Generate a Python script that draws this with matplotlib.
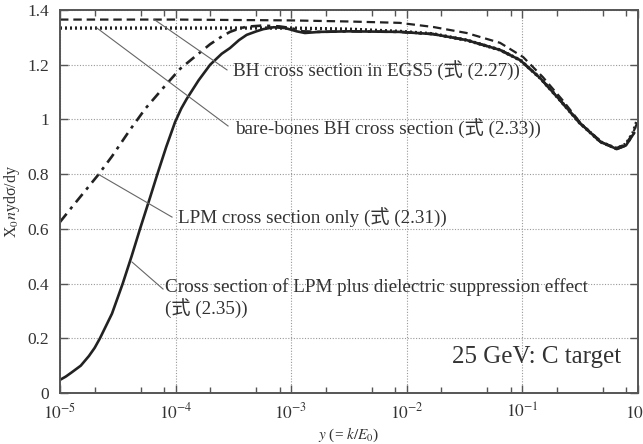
import numpy as np
import matplotlib
matplotlib.use('Agg')
import matplotlib.pyplot as plt
from matplotlib.ticker import LogLocator, NullFormatter

plt.rcParams['font.family'] = ['Liberation Serif', 'Noto Sans CJK JP']
plt.rcParams['mathtext.fontset'] = 'stix'

# curves, x given as log10(y)
solid_logy = [-5.0, -4.95, -4.9, -4.82, -4.75, -4.7, -4.654, -4.55, -4.457, -4.38,
              -4.307, -4.22, -4.157, -4.08, -4.004, -3.95, -3.903, -3.85, -3.80, -3.70,
              -3.60, -3.528, -3.45, -3.384, -3.30, -3.24, -3.15, -3.05, -2.95, -2.88,
              -2.75, -2.5, -2.06, -1.77, -1.48, -1.19, -1.017, -0.84, -0.67, -0.50,
              -0.32, -0.18, -0.10, -0.03]
solid_val = [0.048, 0.06, 0.075, 0.10, 0.135, 0.165, 0.20, 0.29, 0.40, 0.50,
             0.60, 0.715, 0.80, 0.90, 0.99, 1.04, 1.075, 1.11, 1.143, 1.20,
             1.24, 1.261, 1.29, 1.309, 1.322, 1.330, 1.337, 1.334, 1.322, 1.316,
             1.32, 1.322, 1.32, 1.312, 1.29, 1.254, 1.217, 1.15, 1.07, 0.987,
             0.918, 0.892, 0.905, 0.95]

lpm_logy = [-5.0, -4.896, -4.78, -4.67, -4.55, -4.394, -4.26, -4.076, -3.96, -3.816,
            -3.70, -3.60, -3.528, -3.45, -3.384, -3.25, -3.10, -3.0, -2.9, -2.75,
            -2.5, -2.06, -1.77, -1.48, -1.19, -1.017, -0.84, -0.67, -0.50, -0.32,
            -0.18, -0.10, -0.03]
lpm_val = [0.625, 0.68, 0.74, 0.797, 0.865, 0.962, 1.04, 1.13, 1.185, 1.235,
           1.275, 1.303, 1.32, 1.332, 1.339, 1.343, 1.34, 1.334, 1.322, 1.32,
           1.322, 1.32, 1.312, 1.29, 1.254, 1.217, 1.15, 1.07, 0.987, 0.918,
           0.892, 0.905, 0.95]

bare_logy = [-5.0, -4.0, -3.0, -2.5, -2.06, -1.77, -1.48, -1.19, -1.017, -0.84,
             -0.67, -0.50, -0.32, -0.18, -0.10, -0.04, 0.0]
bare_val = [1.334, 1.334, 1.334, 1.330, 1.322, 1.313, 1.29, 1.254, 1.217, 1.15,
            1.07, 0.987, 0.918, 0.893, 0.91, 0.95, 1.0]

egs_logy = [-5.0, -4.0, -3.0, -2.5, -2.06, -1.77, -1.48, -1.19, -0.99, -0.82,
            -0.65, -0.48, -0.30, -0.18, -0.10, -0.04, 0.0]
egs_val = [1.365, 1.365, 1.362, 1.358, 1.353, 1.338, 1.316, 1.28, 1.228, 1.155,
           1.071, 0.98, 0.914, 0.896, 0.91, 0.95, 0.99]

xticks = [1e-5, 1e-4, 1e-3, 1e-2, 1e-1, 1e0]
xticklabels = ['$10^{-5}$', '$10^{-4}$', '$10^{-3}$', '$10^{-2}$', '$10^{-1}$', '$10^{0}$']
yticks = [0, 0.2, 0.4, 0.6, 0.8, 1.0, 1.2, 1.4]
yticklabels = ['0', '0.2', '0.4', '0.6', '0.8', '1', '1.2', '1.4']

txt = '#333333'
fig = plt.figure(figsize=(6.43, 4.44), dpi=100)
ax = fig.add_axes([60 / 643, 51 / 444, 577.5 / 643, 383 / 444])

ax.plot(10 ** np.array(egs_logy), egs_val, color='#222222', lw=1.6, ls=(0, (3.8, 2.2)))
ax.plot(10 ** np.array(bare_logy), bare_val, color='#222222', lw=2.4, ls=(0, (0.6, 0.9)))
ax.plot(10 ** np.array(lpm_logy), lpm_val, color='#222222', lw=1.9, ls=(0, (4, 2.2, 1.2, 2.2)))
ax.plot(10 ** np.array(solid_logy), solid_val, color='#222222', lw=1.9)

ax.set_xscale('log')
ax.set_xlim(1e-5, 1)
ax.set_ylim(0, 1.4)
ax.set_xticks(xticks)
ax.set_xticklabels(xticklabels)
ax.xaxis.set_minor_locator(LogLocator(base=10, subs=[2, 5, 8]))
ax.xaxis.set_minor_formatter(NullFormatter())
ax.set_yticks(yticks)
ax.set_yticklabels(yticklabels)
ax.grid(True, which='major', color='#999999', lw=0.8, ls=(0, (1, 1.5)))

ax.tick_params(which='both', direction='in', top=True, right=True, color='#555555',
               labelcolor=txt, labelsize=12.5)
ax.tick_params(which='major', length=6, width=1)
ax.tick_params(which='minor', length=4, width=1)
ax.tick_params(axis='y', pad=8)
ax.tick_params(axis='x', pad=7)
for s in ax.spines.values():
    s.set_color('#555555')
    s.set_linewidth(1.4)

ax.set_xlabel(r'$y$ (= $k/E_0$)', fontsize=11, color=txt, labelpad=2)
ax.set_ylabel(r'X$_0$$n$ydσ/dy', fontsize=11.5, color=txt, labelpad=4)

# annotation lines: (log10 x0, y0, log10 x1, y1)
ann = [
    (-4.18, 1.364, -3.554, 1.181, 'BH cross section in EGS5 (式 (2.27))', -3.50, 1.18),
    (-4.68, 1.334, -3.545, 0.976, 'bare-bones BH cross section (式 (2.33))', -3.485, 0.969),
    (-4.67, 0.80, -4.03, 0.643, 'LPM cross section only (式 (2.31))', -3.98, 0.643),
    (-4.377, 0.479, -4.108, 0.38,
     'Cross section of LPM plus dielectric suppression effect\n(式 (2.35))', -4.09, 0.37),
]
for lx0, y0, lx1, y1, label, tx, ty in ann:
    ax.plot([10 ** lx0, 10 ** lx1], [y0, y1], color='#666666', lw=0.8)
    va = 'top' if '\n' in label else 'center'
    if va == 'top':
        ty = ty + 0.05
    ax.text(10 ** tx, ty, label, fontsize=13.8, color=txt, va=va, ha='left',
            linespacing=1.1)

ax.text(10 ** -0.143, 0.132, '25 GeV: C target', fontsize=18, color=txt,
        ha='right', va='center')

plt.savefig('out.png', dpi=100, facecolor='white')
plt.close()
